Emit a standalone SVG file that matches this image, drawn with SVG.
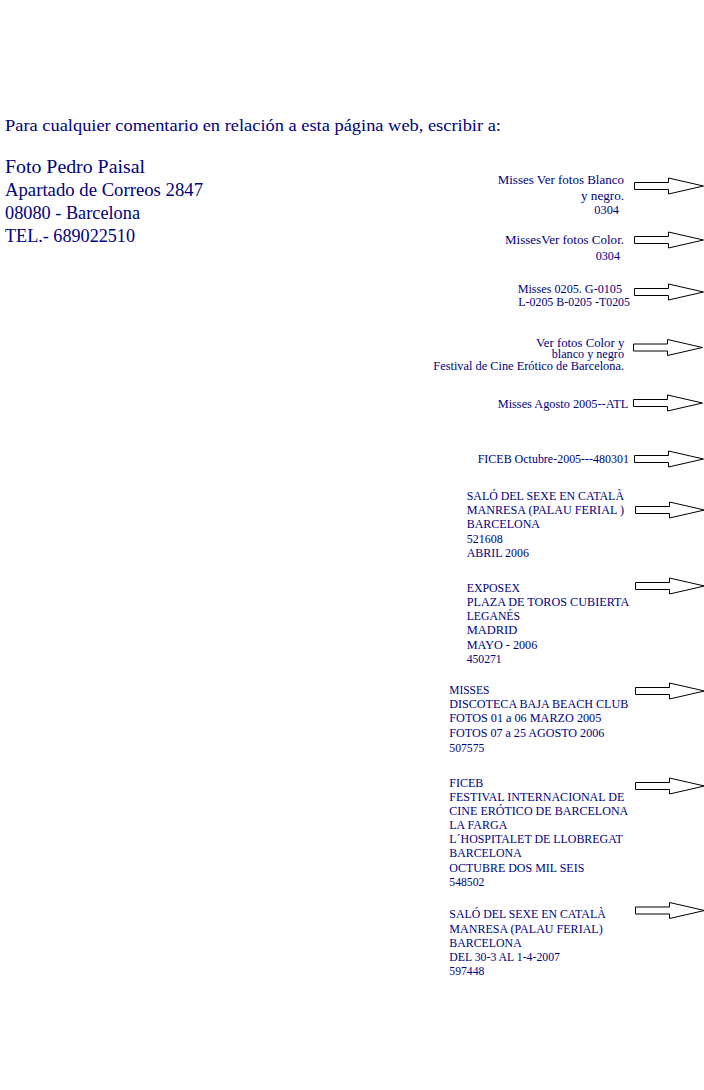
<svg xmlns="http://www.w3.org/2000/svg" width="704" height="1090" viewBox="0 0 704 1090">
<defs>
<style>
text{font-family:"Liberation Serif","Times New Roman",serif;fill:#000080}
.h{font-size:16.5px}
.b{font-size:18.67px}
.s{font-size:12px}
.arr{fill:#fff;stroke:#000;stroke-width:1}
</style>
<polygon id="ar" class="arr" points="0,-3.5 34,-3.5 34,-8 69,0 34,8 34,3.5 0,3.5"/>
</defs>
<rect width="704" height="1090" fill="#fff"/>
<g id="contact">
<text class="h" x="5" y="131" textLength="496" lengthAdjust="spacingAndGlyphs">Para cualquier comentario en relación a esta página web, escribir a:</text>
<text class="b" x="5" y="173.3" textLength="140" lengthAdjust="spacingAndGlyphs">Foto Pedro Paisal</text>
<text class="b" x="5" y="196.3" textLength="198" lengthAdjust="spacingAndGlyphs">Apartado de Correos 2847</text>
<text class="b" x="5" y="219.3" textLength="135" lengthAdjust="spacingAndGlyphs">08080 - Barcelona</text>
<text class="b" x="5" y="242.3" textLength="130" lengthAdjust="spacingAndGlyphs">TEL.- 689022510</text>
</g>
<g id="item1">
<text class="s" x="497.7" y="184.3" textLength="126.3" lengthAdjust="spacingAndGlyphs">Misses Ver fotos Blanco</text>
<text class="s" x="581" y="200" textLength="43" lengthAdjust="spacingAndGlyphs">y negro.</text>
<text class="s" x="594.3" y="214.3" textLength="24.7" lengthAdjust="spacingAndGlyphs">0304</text>
</g>
<g id="item2">
<text class="s" x="505" y="244" textLength="119" lengthAdjust="spacingAndGlyphs">MissesVer fotos Color.</text>
<text class="s" x="595.7" y="260" textLength="24.3" lengthAdjust="spacingAndGlyphs">0304</text>
</g>
<g id="item3">
<text class="s" x="517.7" y="292.7" textLength="104.3" lengthAdjust="spacingAndGlyphs">Misses 0205. G-0105</text>
<text class="s" x="518.3" y="305.7" textLength="111.7" lengthAdjust="spacingAndGlyphs">L-0205 B-0205 -T0205</text>
</g>
<g id="item4">
<text class="s" x="536" y="346.7" textLength="88.3" lengthAdjust="spacingAndGlyphs">Ver fotos Color y</text>
<text class="s" x="551.7" y="358.3" textLength="72.3" lengthAdjust="spacingAndGlyphs">blanco y negro</text>
<text class="s" x="433.3" y="370" textLength="190.7" lengthAdjust="spacingAndGlyphs">Festival de Cine Erótico de Barcelona.</text>
</g>
<g id="item5">
<text class="s" x="497.7" y="408.3" textLength="130.6" lengthAdjust="spacingAndGlyphs">Misses Agosto 2005--ATL</text>
</g>
<g id="item6">
<text class="s" x="477.7" y="463.3" textLength="151.3" lengthAdjust="spacingAndGlyphs">FICEB Octubre-2005---480301</text>
</g>
<g id="item7">
<text class="s" x="466.7" y="500" textLength="157.3" lengthAdjust="spacingAndGlyphs">SALÓ DEL SEXE EN CATALÀ</text>
<text class="s" x="466.7" y="514.3" textLength="157.3" lengthAdjust="spacingAndGlyphs">MANRESA (PALAU FERIAL )</text>
<text class="s" x="466.7" y="528.3" textLength="73.3" lengthAdjust="spacingAndGlyphs">BARCELONA</text>
<text class="s" x="466.7" y="542.7" textLength="36" lengthAdjust="spacingAndGlyphs">521608</text>
<text class="s" x="466.7" y="557.3" textLength="62.3" lengthAdjust="spacingAndGlyphs">ABRIL 2006</text>
</g>
<g id="item8">
<text class="s" x="466.7" y="591.7" textLength="53.3" lengthAdjust="spacingAndGlyphs">EXPOSEX</text>
<text class="s" x="466.7" y="605.7" textLength="162.6" lengthAdjust="spacingAndGlyphs">PLAZA DE TOROS CUBIERTA</text>
<text class="s" x="466.7" y="620" textLength="53.3" lengthAdjust="spacingAndGlyphs">LEGANÉS</text>
<text class="s" x="466.7" y="634.3" textLength="50.6" lengthAdjust="spacingAndGlyphs">MADRID</text>
<text class="s" x="466.7" y="649" textLength="70.6" lengthAdjust="spacingAndGlyphs">MAYO - 2006</text>
<text class="s" x="466.7" y="663.3" textLength="35" lengthAdjust="spacingAndGlyphs">450271</text>
</g>
<g id="item9">
<text class="s" x="449.3" y="694" textLength="40" lengthAdjust="spacingAndGlyphs">MISSES</text>
<text class="s" x="449.3" y="708.3" textLength="179" lengthAdjust="spacingAndGlyphs">DISCOTECA BAJA BEACH CLUB</text>
<text class="s" x="449.3" y="722.3" textLength="152" lengthAdjust="spacingAndGlyphs">FOTOS 01 a 06 MARZO 2005</text>
<text class="s" x="449.3" y="737.3" textLength="155" lengthAdjust="spacingAndGlyphs">FOTOS 07 a 25 AGOSTO 2006</text>
<text class="s" x="449.3" y="751.7" textLength="35" lengthAdjust="spacingAndGlyphs">507575</text>
</g>
<g id="item10">
<text class="s" x="449.3" y="786.7" textLength="34" lengthAdjust="spacingAndGlyphs">FICEB</text>
<text class="s" x="449.3" y="800.7" textLength="175" lengthAdjust="spacingAndGlyphs">FESTIVAL INTERNACIONAL DE</text>
<text class="s" x="449.3" y="815" textLength="179" lengthAdjust="spacingAndGlyphs">CINE ERÓTICO DE BARCELONA</text>
<text class="s" x="449.3" y="829.3" textLength="58" lengthAdjust="spacingAndGlyphs">LA FARGA</text>
<text class="s" x="449.3" y="843.3" textLength="173.4" lengthAdjust="spacingAndGlyphs">L´HOSPITALET DE LLOBREGAT</text>
<text class="s" x="449.3" y="857.3" textLength="72.4" lengthAdjust="spacingAndGlyphs">BARCELONA</text>
<text class="s" x="449.3" y="871.7" textLength="135" lengthAdjust="spacingAndGlyphs">OCTUBRE DOS MIL SEIS</text>
<text class="s" x="449.3" y="886" textLength="35" lengthAdjust="spacingAndGlyphs">548502</text>
</g>
<g id="item11">
<text class="s" x="449.3" y="918.3" textLength="156.4" lengthAdjust="spacingAndGlyphs">SALÓ DEL SEXE EN CATALÀ</text>
<text class="s" x="449.3" y="932.7" textLength="153.4" lengthAdjust="spacingAndGlyphs">MANRESA (PALAU FERIAL)</text>
<text class="s" x="449.3" y="946.7" textLength="72.4" lengthAdjust="spacingAndGlyphs">BARCELONA</text>
<text class="s" x="449.3" y="960.7" textLength="110.7" lengthAdjust="spacingAndGlyphs">DEL 30-3 AL 1-4-2007</text>
<text class="s" x="449.3" y="975" textLength="35" lengthAdjust="spacingAndGlyphs">597448</text>
</g>
<g id="arrows">
<use href="#ar" x="634.5" y="186"/>
<use href="#ar" x="634.5" y="240"/>
<use href="#ar" x="634.5" y="292"/>
<use href="#ar" x="633.5" y="347.5"/>
<use href="#ar" x="633.5" y="403"/>
<use href="#ar" x="634.5" y="459"/>
<use href="#ar" x="635.5" y="510"/>
<use href="#ar" x="635.5" y="586"/>
<use href="#ar" x="635.5" y="691"/>
<use href="#ar" x="635.5" y="786"/>
<use href="#ar" x="635.5" y="910.5"/>
</g>
</svg>
